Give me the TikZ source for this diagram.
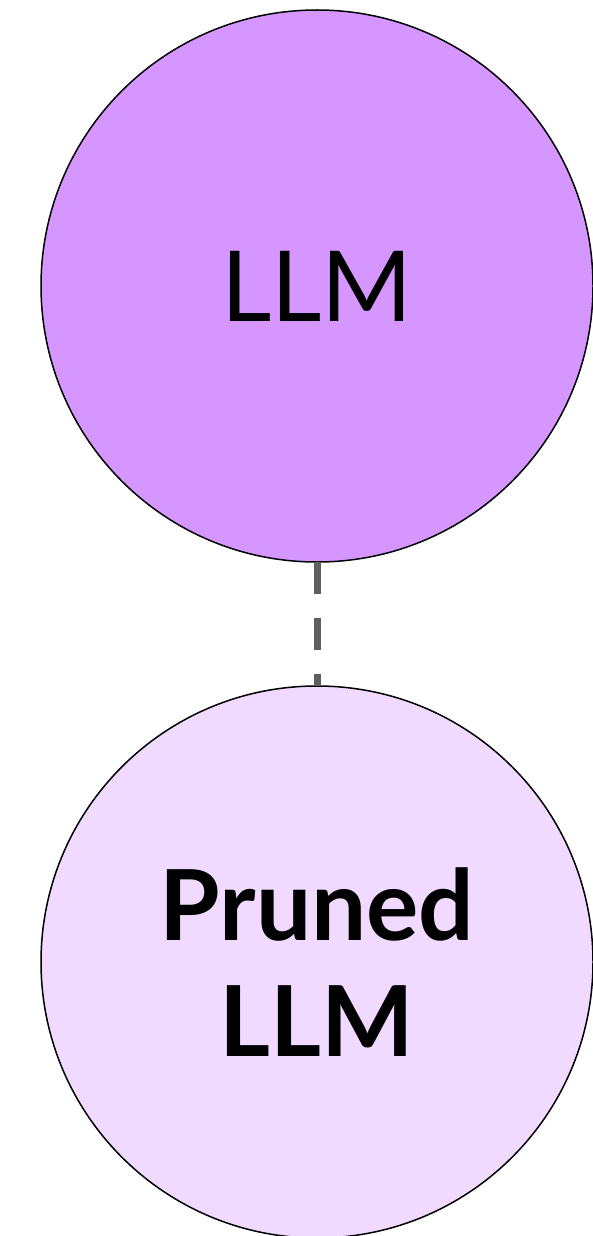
\documentclass[tikz,border=0pt]{standalone}
\usepackage{fontspec}
\setmainfont{Lato}
\definecolor{topfill}{HTML}{D597FF}
\definecolor{botfill}{HTML}{F0DAFF}
\definecolor{dashgray}{HTML}{5F5F5F}
\begin{document}
\begin{tikzpicture}[x=1pt,y=1pt,
  bigcircle/.style={circle, draw=black, line width=1.5pt, minimum size=552pt, inner sep=0pt, outer sep=0pt, align=center, font=\fontsize{98}{116}\selectfont},
  link/.style={draw=dashgray, line width=7pt, dash pattern=on 32pt off 24pt}]
\useasboundingbox (0,0) rectangle (592,-1236);
\node[bigcircle, fill=topfill] (llm) at (317,-286) {LLM};
\node[bigcircle, fill=botfill, font=\fontsize{98}{116}\selectfont\bfseries] (pruned) at (317,-962) {Pruned\\LLM};
\draw[link] (llm.south) -- (pruned.north);
\end{tikzpicture}
\end{document}
